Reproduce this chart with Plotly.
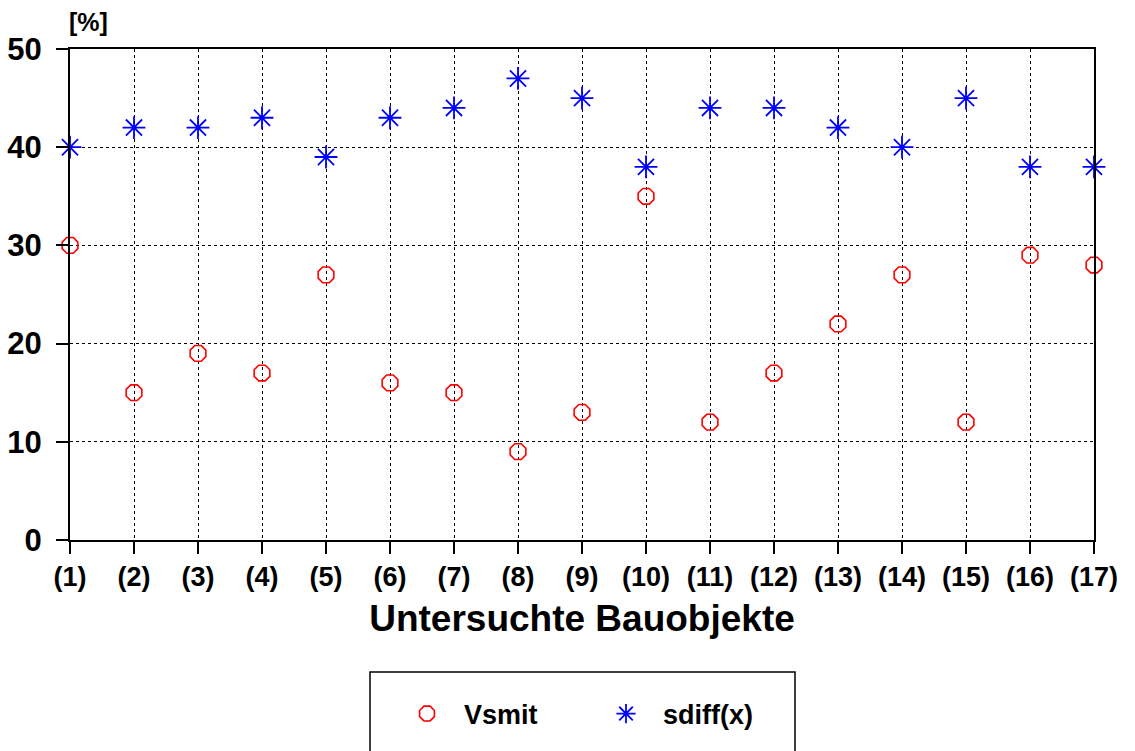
import plotly.graph_objects as go

# Untersuchte Bauobjekte (1)..(17)
objekte = list(range(1, 18))
objekt_labels = [f"({i})" for i in objekte]

# Werte in Prozent
vsmit = [30, 15, 19, 17, 27, 16, 15, 9, 13, 35, 12, 17, 22, 27, 12, 29, 28]
sdiff = [40, 42, 42, 43, 39, 43, 44, 47, 45, 38, 44, 44, 42, 40, 45, 38, 38]

y_ticks = [0, 10, 20, 30, 40, 50]

FONT = "Liberation Sans"

fig = go.Figure()
fig.add_trace(go.Scatter(
    x=objekte, y=vsmit, mode="markers", name="Vsmit",
    marker=dict(symbol="octagon-open", size=17, color="#ff0000",
                line=dict(width=1.6, color="#ff0000")),
    cliponaxis=False,
))
fig.add_trace(go.Scatter(
    x=objekte, y=sdiff, mode="markers", name="sdiff(x)",
    marker=dict(symbol="asterisk-open", size=19, color="#0000ff",
                line=dict(width=1.8, color="#0000ff")),
    cliponaxis=False,
))

axis_common = dict(
    showline=True, linecolor="black", linewidth=2, mirror=True,
    showgrid=True, gridcolor="black", gridwidth=1, griddash="dot",
    zeroline=False, ticks="outside", ticklen=12, tickwidth=2, tickcolor="black",
    automargin=False,
)

fig.update_xaxes(
    range=[1, 17], tickmode="array", tickvals=objekte, ticktext=objekt_labels,
    tickfont=dict(family=FONT, size=27, color="black", weight="bold"),
    title=dict(text="Untersuchte Bauobjekte", standoff=14,
               font=dict(family=FONT, size=37, color="black", weight="bold")),
    **axis_common,
)
fig.update_yaxes(
    range=[0, 50], tickmode="array", tickvals=y_ticks, ticklabelstandoff=8,
    tickfont=dict(family=FONT, size=31, color="black", weight="bold"),
    **axis_common,
)

# Legendenrahmen
fig.add_shape(type="rect", xref="paper", yref="paper",
              x0=(370 - 70) / 1024, x1=(795 - 70) / 1024,
              y0=(540 - 790) / 491, y1=(540 - 672) / 491,
              line=dict(color="black", width=1.5), fillcolor="white", layer="below")

fig.add_annotation(text="[%]", xref="paper", yref="paper", x=(88 - 70) / 1024,
                   y=(540 - 22) / 491, showarrow=False, xanchor="center", yanchor="middle",
                   font=dict(family=FONT, size=25, color="black", weight="bold"))

fig.update_layout(
    width=1135, height=751,
    margin=dict(l=70, r=41, t=49, b=211),
    plot_bgcolor="white", paper_bgcolor="white",
    showlegend=True,
    legend=dict(orientation="h", x=(390 - 70) / 1024, xanchor="left",
                y=(540 - 714) / 491, yanchor="middle",
                font=dict(family=FONT, size=27, color="black", weight="bold"),
                bgcolor="rgba(0,0,0,0)", itemwidth=64, entrywidth=120,
                itemsizing="trace"),
)

fig.write_html("out.html")
